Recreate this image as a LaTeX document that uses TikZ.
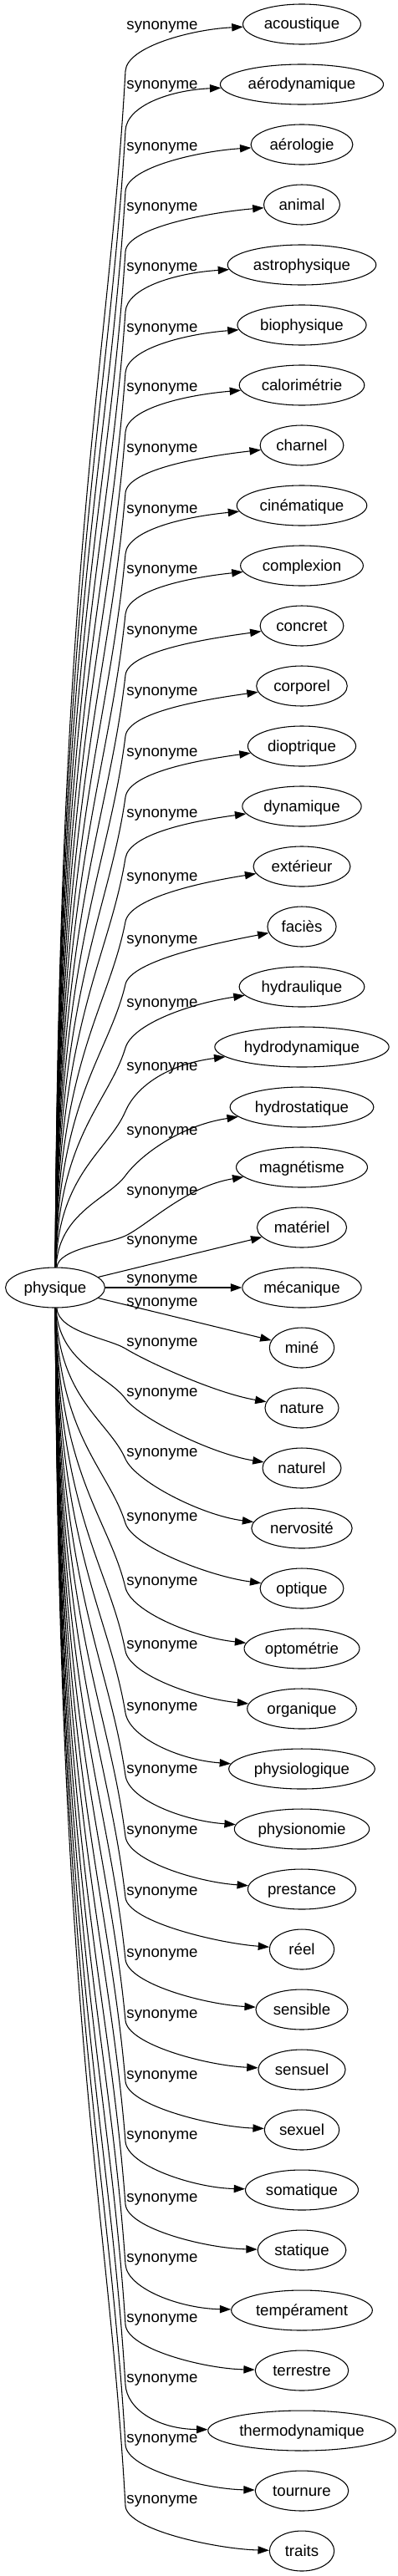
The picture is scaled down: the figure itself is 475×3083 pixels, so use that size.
\documentclass[tikz,border=0pt]{standalone}
\usepackage{fontspec}
\setmainfont{Liberation Sans}
\usetikzlibrary{shapes.geometric, arrows.meta, calc}
\tikzset{
  mot/.style={ellipse, draw, line width=0.8pt, inner xsep=3.5pt, inner ysep=0pt, minimum height=36pt, minimum width=58pt, text height=11pt, text depth=2pt, font=\fontsize{14pt}{16pt}\selectfont},
  etiq/.style={anchor=base, inner sep=0pt, font=\fontsize{14pt}{16pt}\selectfont},
  lien/.style={line width=0.8pt, -{Triangle[length=10pt, width=7pt]}}
}

\begin{document}
\begin{tikzpicture}[x=0.75pt, y=-0.75pt]
  \useasboundingbox (0,0) rectangle (475,3083);

  % Mot central
  \node[mot] (physique) at (66,1541) {physique};

  % Synonymes au-dessus
  \foreach \k/\nom/\texte/\ly in {1/acoustique/acoustique/31, 2/aerodynamique/aérodynamique/102,
      3/aerologie/aérologie/175, 4/animal/animal/247, 5/astrophysique/astrophysique/319,
      6/biophysique/biophysique/392, 7/calorimetrie/calorimétrie/463, 8/charnel/charnel/536,
      9/cinematique/cinématique/609, 10/complexion/complexion/681, 11/concret/concret/754,
      12/corporel/corporel/827, 13/dioptrique/dioptrique/900, 14/dynamique/dynamique/973,
      15/exterieur/extérieur/1049, 16/facies/faciès/1124, 17/hydraulique/hydraulique/1200,
      18/hydrodynamique/hydrodynamique/1276, 19/hydrostatique/hydrostatique/1353,
      20/magnetisme/magnétisme/1425}{
    \pgfmathsetmacro{\yt}{29+72*(\k-1)}
    \pgfmathsetmacro{\yb}{\ly+54}
    \pgfmathsetmacro{\dy}{6+0.9*(\k-1)}
    \node[mot] (\nom) at (361,\yt) {\texte};
    \node[etiq] (l\k) at (194,{\ly+5}) {synonyme};
    \coordinate (b\k) at (150,\yb);
    \draw[lien] (physique) .. controls (70,{1517-0.6*(1517-\yb)}) and ($(b\k)!0.25!(70,1517)$) .. (b\k)
      .. controls ($(b\k)!-22pt!(70,1517)$) and ($(\nom.west)+(-60,\dy)$) .. (\nom);
  }

  % Synonymes presque en face
  \node[mot] (materiel) at (361,1469) {matériel};
  \node[etiq] (l21) at (194,1489) {synonyme};
  \draw[lien] (physique) -- (materiel);

  \node[mot] (mecanique) at (361,1541) {mécanique};
  \node[etiq] (l22) at (194,1535) {synonyme};
  \draw[lien] (physique) -- (mecanique);

  \node[mot] (mine) at (361,1613) {miné};
  \node[etiq] (l23) at (194,1563) {synonyme};
  \draw[lien] (physique) -- (mine);

  % Synonymes en dessous
  \foreach \k/\nom/\texte/\ly in {24/nature/nature/1606, 25/naturel/naturel/1666,
      26/nervosite/nervosité/1738, 27/optique/optique/1815, 28/optometrie/optométrie/1892,
      29/organique/organique/1968, 30/physiologique/physiologique/2042,
      31/physionomie/physionomie/2117, 32/prestance/prestance/2190, 33/reel/réel/2263,
      34/sensible/sensible/2337, 35/sensuel/sensuel/2410, 36/sexuel/sexuel/2483,
      37/somatique/somatique/2555, 38/statique/statique/2630, 39/temperament/tempérament/2702,
      40/terrestre/terrestre/2774, 41/thermodynamique/thermodynamique/2846,
      42/tournure/tournure/2918, 43/traits/traits/2991}{
    \pgfmathsetmacro{\yt}{29+72*(\k-1)}
    \pgfmathsetmacro{\yb}{\ly+8}
    \pgfmathsetmacro{\dy}{max(2,18-1.2*(\k-24))}
    \node[mot] (\nom) at (361,\yt) {\texte};
    \node[etiq] (l\k) at (194,{\ly+5}) {synonyme};
    \coordinate (b\k) at (150,\yb);
    \draw[lien] (physique) .. controls (70,{1565+0.6*(\yb-1565)}) and ($(b\k)!0.25!(70,1565)$) .. (b\k)
      .. controls ($(b\k)!-22pt!(70,1565)$) and ($(\nom.west)+(-60,-\dy)$) .. (\nom);
  }
\end{tikzpicture}
\end{document}
